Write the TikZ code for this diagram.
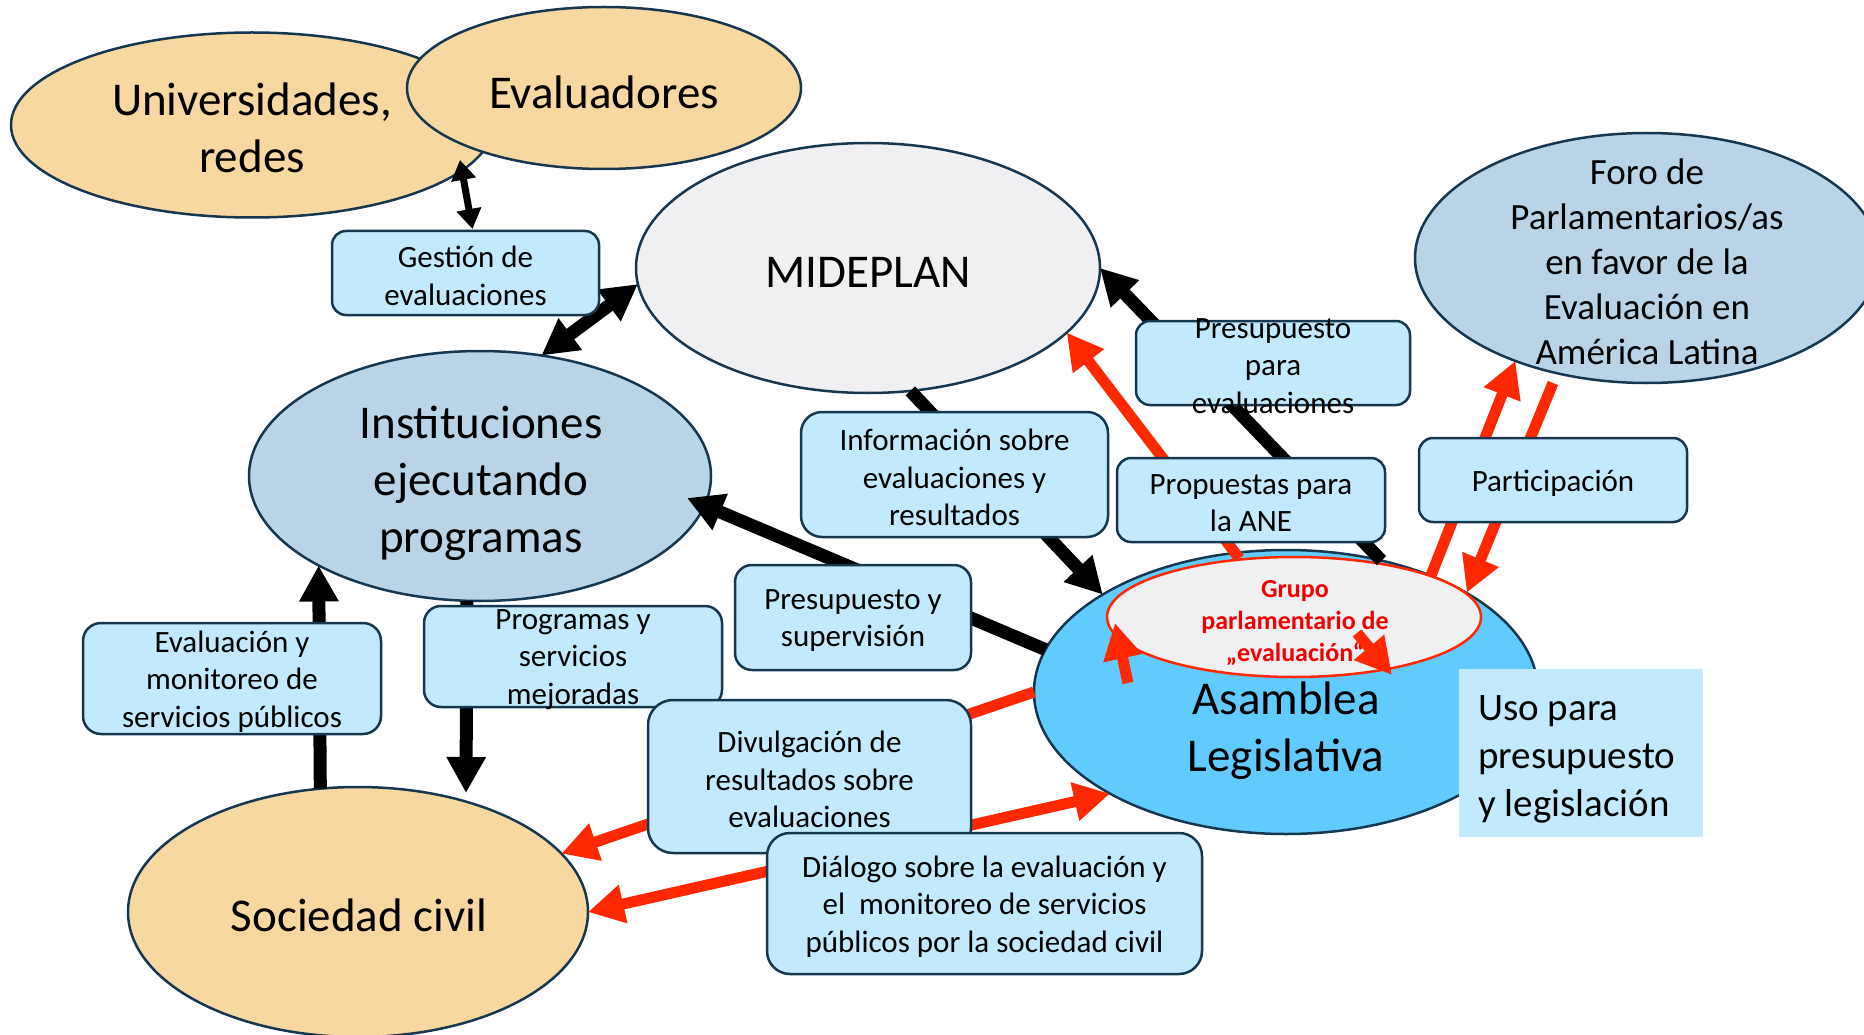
\documentclass[tikz,border=0pt]{standalone}
\usepackage{fontspec}
\setmainfont{Carlito}
\usetikzlibrary{shapes.geometric,arrows.meta,calc}
\pgfdeclarelayer{ellback}
\pgfdeclarelayer{arrlayer}
\pgfsetlayers{ellback,arrlayer,main}
\definecolor{orfill}{RGB}{248,216,161}
\definecolor{grfill}{RGB}{240,240,242}
\definecolor{bgfill}{RGB}{184,212,230}
\definecolor{asfill}{RGB}{97,203,253}
\definecolor{bxfill}{RGB}{194,233,252}
\definecolor{bdcol}{RGB}{22,55,80}
\definecolor{redarr}{RGB}{255,40,0}
\definecolor{redtxt}{RGB}{240,0,0}
\begin{document}
\begin{tikzpicture}[x=1pt,y=-1pt,
  ell/.style={ellipse, draw=bdcol, line width=2.5pt, inner sep=0pt, outer sep=0pt},
  lbox/.style={rectangle, rounded corners=#1, draw=bdcol, fill=bxfill, line width=2.5pt, inner sep=0pt, outer sep=0pt},
  bigtxt/.style={align=center, font=\fontsize{47}{57}\selectfont, inner sep=0pt},
  btxt/.style={align=center, font=\fontsize{31}{37.5}\selectfont, inner sep=0pt, yshift=-3pt},
  blk/.style={line width=13pt, draw=black, -{Triangle[width=37pt,length=36pt]}},
  blkd/.style={line width=13pt, draw=black, {Triangle[width=37pt,length=36pt]}-{Triangle[width=37pt,length=36pt]}},
  thinblk/.style={line width=7pt, draw=black, {Triangle[width=24pt,length=20pt]}-{Triangle[width=24pt,length=20pt]}},
  rarr/.style={line width=11pt, draw=redarr, -{Triangle[width=37pt,length=36pt]}},
  rarrd/.style={line width=11pt, draw=redarr, {Triangle[width=37pt,length=36pt]}-{Triangle[width=37pt,length=36pt]}}
]
\useasboundingbox (0,0) rectangle (1864,1035);

\begin{pgfonlayer}{ellback}
\fill[white] (0,0) rectangle (1864,1035);
\node[ell, fill=orfill, minimum width=482pt, minimum height=185pt] (uni) at (252,125) {};
\node[ell, fill=orfill, minimum width=394pt, minimum height=162pt] (eva) at (604,88) {};
\node[ell, fill=grfill, minimum width=464pt, minimum height=250pt] (mide) at (868,268) {};
\node[ell, fill=bgfill, minimum width=462pt, minimum height=250pt] (inst) at (480,476) {};
\node[ell, fill=bgfill, minimum width=464pt, minimum height=250pt] (foro) at (1647,258) {};
\node[ell, fill=orfill, minimum width=460pt, minimum height=250pt] (soc) at (358,912) {};
\node[ell, fill=asfill, minimum width=504pt, minimum height=284pt] (asam) at (1286,692) {};
\node[ellipse, draw=redarr, line width=2.5pt, fill=grfill, minimum width=374pt, minimum height=120pt, inner sep=0pt] (grupo) at (1294,617) {};
\node[rectangle, fill=bxfill, minimum width=244pt, minimum height=168pt, inner sep=0pt] (uso) at (1581,753) {};

\node[bigtxt] (uniT) at (252,128) {Universidades,\\redes};
\node[bigtxt] (evaT) at (604,92) {Evaluadores};
\node[bigtxt] (mideT) at (868,272) {MIDEPLAN};
\node[bigtxt] (instT) at (481,483) {Instituciones\\ejecutando\\programas};
\node[align=center, font=\fontsize{37}{45}\selectfont, inner sep=0pt] (foroT) at (1647,262) {Foro de\\Parlamentarios/as\\en favor de la\\Evaluación en\\América Latina};
\node[bigtxt] (socT) at (359,915) {Sociedad civil};
\node[bigtxt] (asamT) at (1286,731) {Asamblea\\Legislativa};
\node[align=center, font=\bfseries\fontsize{26}{31.7}\selectfont, text=redtxt, inner sep=0pt] (grupoT) at (1295,623) {Grupo\\parlamentario de\\„evaluación“};
\node[align=left, anchor=west, font=\fontsize{39}{48}\selectfont, inner sep=0pt] (usoT) at (1478,759) {Uso para\\presupuesto\\y legislación};
\end{pgfonlayer}

% boxes
\node[lbox=14pt, minimum width=267pt, minimum height=84pt] (gest) at (465.5,273) {};
\node[btxt] (gestT) at (gest.center) {Gestión de\\evaluaciones};
\node[lbox=21pt, minimum width=307pt, minimum height=125pt] (info) at (954.5,474.5) {};
\node[btxt] (infoT) at (info.center) {Información sobre\\evaluaciones y\\resultados};
\node[lbox=14pt, minimum width=274pt, minimum height=84pt] (ppe) at (1273,363) {};
\node[btxt] (ppeT) at (ppe.center) {Presupuesto\\para\\evaluaciones};
\node[lbox=14pt, minimum width=268pt, minimum height=84pt] (ane) at (1251,500) {};
\node[btxt] (aneT) at (ane.center) {Propuestas para\\la ANE};
\node[lbox=14pt, minimum width=268pt, minimum height=84pt] (part) at (1553,480) {};
\node[btxt] (partT) at (part.center) {Participación};
\node[lbox=17pt, minimum width=236pt, minimum height=105pt] (psup) at (853,617.5) {};
\node[btxt] (psupT) at (psup.center) {Presupuesto y\\supervisión};
\node[lbox=18pt, minimum width=298pt, minimum height=111pt] (evmon) at (232,678.5) {};
\node[btxt] (evmonT) at (evmon.center) {Evaluación y\\monitoreo de\\servicios públicos};
\node[lbox=17pt, minimum width=298pt, minimum height=101pt] (prog) at (573,656.5) {};
\node[btxt] (progT) at (prog.center) {Programas y\\servicios\\mejoradas};
\node[lbox=25pt, minimum width=323pt, minimum height=153pt] (divul) at (809.5,776.5) {};
\node[btxt] (divulT) at (divul.center) {Divulgación de\\resultados sobre\\evaluaciones};
\node[lbox=23pt, minimum width=435pt, minimum height=141pt] (dial) at (984.5,903.5) {};
\node[btxt] (dialT) at (dial.center) {Diálogo sobre la evaluación y\\el\ \ monitoreo de servicios\\públicos por la sociedad civil};

\begin{pgfonlayer}{arrlayer}
\draw[thinblk] ($(gest.north)+(7,-2)$) -- ($(uni.center)+(208,35)$);
\draw[blkd] (inst.63) -- (mide.184);
\draw[blk] (asam.170) -- ($(inst.center)+(207,22)$);
\draw[blk] (mide.-71) -- (asam.152);
\draw[blk] (asam.54) -- (mide.east);
\draw[blk] (inst.-96) -- ($(soc.center)+(108,-119)$);
\draw[blk] (soc.107) -- (inst.209);
\draw[rarr] (grupo.133) -- (mide.-18);
\draw[rarr] (grupo.17) -- (foro.218);
\draw[rarr] ($(foro.center)+(-94,125)$) -- (grupo.8);
\draw[rarr] ($(grupo.center)+(-166,66)$) -- ($(grupo.center)+(-179,6)$);
\draw[rarr] ($(grupo.center)+(63,16)$) -- ($(grupo.center)+(98,58)$);
\draw[rarr] (asam.west) -- (soc.16);
\draw[rarrd] (soc.east) -- (asam.210);
\end{pgfonlayer}
\end{tikzpicture}
\end{document}
